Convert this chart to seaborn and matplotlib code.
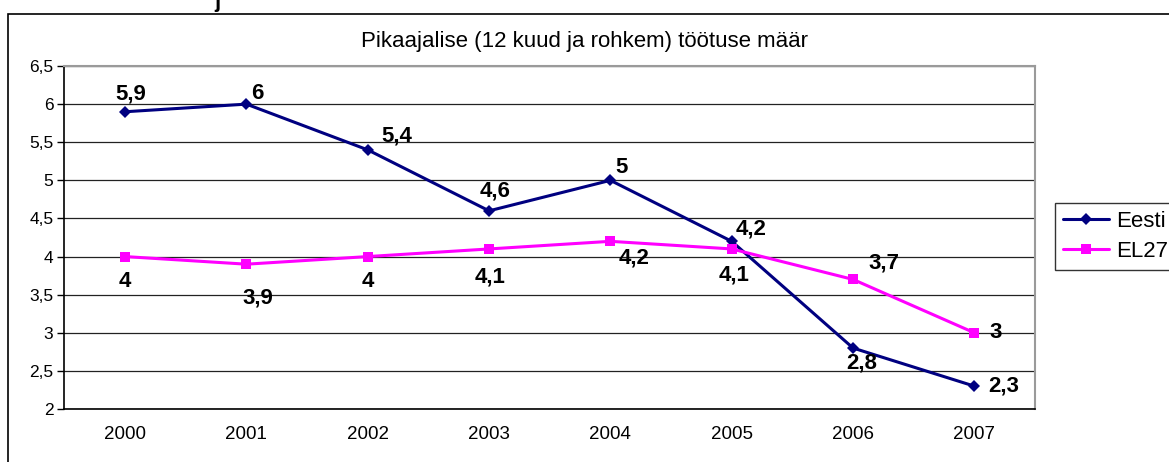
import pandas as pd
import numpy as np
import matplotlib.pyplot as plt
import seaborn as sns
from matplotlib.patches import Rectangle
from matplotlib.lines import Line2D

# =========================================================
# DATA
# =========================================================
years = [2000, 2001, 2002, 2003, 2004, 2005, 2006, 2007]
eesti = [5.9, 6.0, 5.4, 4.6, 5.0, 4.2, 2.8, 2.3]
el27 = [4.0, 3.9, 4.0, 4.1, 4.2, 4.1, 3.7, 3.0]
series_names = ["Eesti", "EL27"]
title = "Pikaajalise (12 kuud ja rohkem) töötuse määr"

# label offsets (points) for each data label
eesti_off = [(4, 13), (8, 8), (21, 10), (4, 14), (8, 9), (14, 9), (6, -11), (21, 0)]
el27_off = [(0, -18), (8, -24), (0, -18), (1, -20), (17, -12), (2, -19), (22, 12), (15, 0)]

df = pd.DataFrame({
    "year": years * 2,
    "value": eesti + el27,
    "series": [series_names[0]] * len(years) + [series_names[1]] * len(years),
})

sns.set_style("white")
plt.rcParams['font.family'] = ['Liberation Sans', 'DejaVu Sans']
plt.rcParams['text.color'] = 'black'
plt.rcParams['xtick.color'] = 'black'
plt.rcParams['ytick.color'] = 'black'

fig = plt.figure(figsize=(11.69, 4.62), dpi=100)
ax = fig.add_axes([0.0551, 0.1147, 0.8303, 0.7424])

colors = {"Eesti": "#000080", "EL27": "#FF00FF"}
markers = {"Eesti": "D", "EL27": "s"}
sns.lineplot(data=df, x="year", y="value", hue="series", style="series",
             palette=colors, markers=markers, dashes=False, linewidth=2.2,
             markersize=6.5, markeredgewidth=0, ax=ax, legend=False)
for ln in ax.get_lines():
    if ln.get_marker() == "D":
        ln.set_markersize(6)

for vals, offs in [(eesti, eesti_off), (el27, el27_off)]:
    for x, v, off in zip(years, vals, offs):
        txt = f"{v:g}".replace(".", ",")
        ax.annotate(txt, (x, v), xytext=off, textcoords="offset points",
                    ha="center", va="center", fontsize=16, fontweight="bold",
                    color="black")

ax.set_xlim(years[0] - 0.5, years[-1] + 0.5)
ax.set_ylim(2, 6.5)
yt = np.arange(2, 6.51, 0.5)
ax.set_yticks(yt)
ax.set_yticklabels([f"{t:g}".replace(".", ",") for t in yt], fontsize=12.5)
ax.set_xticks(years)
ax.set_xticklabels([str(y) for y in years], fontsize=13.5)
ax.set_xticks(np.arange(years[0] - 0.5, years[-1] + 0.51, 1), minor=True)
ax.tick_params(axis="x", which="major", length=0, pad=12, labelcolor="black")
ax.tick_params(axis="x", which="minor", length=5, width=1, color="black", direction="out")
ax.tick_params(axis="y", length=5, width=1, color="black", direction="out", left=True,
               pad=3, labelcolor="black")
ax.set_xlabel("")
ax.set_ylabel("")
ax.grid(axis="y", color="#222222", linewidth=0.9)
ax.set_axisbelow(True)
for s in ["left", "bottom"]:
    ax.spines[s].set_color("black")
    ax.spines[s].set_linewidth(1.2)
for s in ["top", "right"]:
    ax.spines[s].set_color("#9a9a9a")
    ax.spines[s].set_linewidth(1.5)

fig.text(0.5, 1 - 42 / 462, title, ha="center", va="center", fontsize=16, color="black")

# legend
handles = [Line2D([], [], color=colors[n], marker=markers[n], linewidth=2.2,
                  markersize=6.5 if n == "EL27" else 6, markeredgewidth=0) for n in series_names]
leg = fig.legend(handles, series_names, loc="center left", bbox_to_anchor=(1055 / 1169, 0.488),
                 frameon=True, fancybox=False, fontsize=16, handlelength=2.1,
                 borderpad=0.35, labelspacing=0.4, handletextpad=0.3, borderaxespad=0)
leg.get_frame().set_edgecolor("black")
leg.get_frame().set_linewidth(1)
for t in leg.get_texts():
    t.set_color("black")

# outer chart frame
fig.patches.append(Rectangle((8 / 1169, -0.05), 1.2, 0.05 + (462 - 14) / 462,
                             transform=fig.transFigure, fill=False,
                             edgecolor="black", linewidth=1.2))
# heading fragment above the chart, cut by the image edge
fig.text(217 / 1169, 1 - 2 / 462, "j", ha="center", va="center", fontsize=16,
         fontweight="bold", color="black")

fig.savefig("out.png", dpi=100)
